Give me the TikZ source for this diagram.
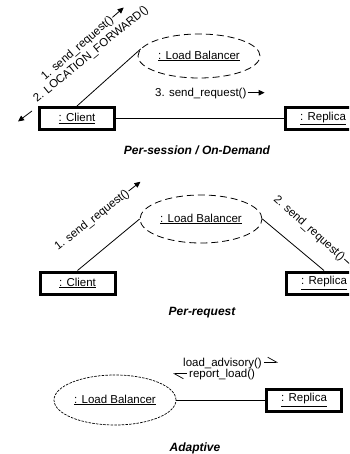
\documentclass[tikz,border=0pt]{standalone}
\usepackage{fontspec}
\setmainfont{Liberation Sans}
\usetikzlibrary{shapes.geometric,arrows.meta}
\tikzset{
  obj/.style={draw, line width=3pt, minimum width=75pt, minimum height=22pt, inner sep=0pt},
  lbal/.style={draw, ellipse, dash pattern=on 7pt off 4pt, line width=0.8pt, minimum width=122pt, minimum height=44pt, inner sep=0pt},
  lbalfine/.style={draw, ellipse, dash pattern=on 2.5pt off 1.2pt, line width=0.7pt, minimum width=122pt, minimum height=50pt, inner sep=0pt},
  link/.style={line width=0.8pt},
  lbl/.style={inner sep=0pt},
  msg/.style={line width=0.8pt, -{Triangle[length=6pt,width=5.5pt]}},
  harp/.style={line width=0.7pt, -{Straight Barb[left,length=9pt,width=10pt]}},
  ttl/.style={inner sep=0pt, font=\fontsize{12}{14}\selectfont\bfseries\itshape}
}
\begin{document}
\begin{tikzpicture}[x=1pt,y=-1pt,font=\fontsize{11.5}{13.5}\selectfont]
\path[use as bounding box] (0,0) rectangle (349,454);
\clip (0,0) rectangle (349,454);

% ---------- Per-session / On-Demand ----------
\node[lbal] (lb1) at (199,56) {\underline{: Load Balancer}};
\node[obj] (c1) at (77,118.5) {\underline{: Client}};
\node[obj] (r1) at (323,118.5) {\underline{: Replica}};
\draw[link] (c1) -- (r1);
\draw[link] (c1.north) -- (lb1.173);
\begin{scope}[shift={(45,81)}, rotate=41, transform shape]
  \node[lbl, anchor=base west] (m1) at (0,0) {1. send\_request()};
  \draw[msg] ([xshift=1pt,yshift=3.8pt]m1.base east) -- ++(15,0);
\end{scope}
\begin{scope}[shift={(37,103)}, rotate=39.5, transform shape]
  \node[lbl, anchor=base west] (m2) at (0,0) {2. LOCATION\_FORWARD()};
\end{scope}
\coordinate (ra) at (32,111);
\coordinate (rb) at (18,121.5);
\draw[msg] (ra) -- (rb);
\node[lbl, anchor=base west] (m3) at (155,96.5) {3. send\_request()};
\draw[msg] ([xshift=1pt,yshift=3.8pt]m3.base east) -- ++(17,0);
\node[ttl] (t1) at (197,150) {Per-session / On-Demand};

% ---------- Per-request ----------
\node[lbal, minimum height=48pt] (lb2) at (201,219) {\underline{: Load Balancer}};
\node[obj] (c2) at (77.5,283) {\underline{: Client}};
\node[obj] (r2) at (324,283) {\underline{: Replica}};
\draw[link] (c2.north) -- (lb2.west);
\draw[link] (lb2.east) -- (r2.north);
\begin{scope}[shift={(58,251)}, rotate=38, transform shape]
  \node[lbl, anchor=base west] (m4) at (0,0) {1. send\_request()};
  \draw[msg] ([xshift=1pt,yshift=3.8pt]m4.base east) -- ++(15,0);
\end{scope}
\begin{scope}[shift={(273,200)}, rotate=-42, transform shape]
  \node[lbl, anchor=base west] (m5) at (0,0) {2. send\_request()};
  \draw[msg] ([xshift=1pt,yshift=3.8pt]m5.base east) -- ++(15,0);
\end{scope}
\node[ttl] (t2) at (202,312.5) {Per-request};

% ---------- Adaptive ----------
\node[lbalfine] (lb3) at (115,400) {\underline{: Load Balancer}};
\node[obj] (r3) at (304,400) {\underline{: Replica}};
\draw[link] (lb3.east) -- (r3.west);
\node[lbl, anchor=base west] (m6) at (183,366) {load\_advisory()};
\draw[harp] ([xshift=2pt,yshift=3.8pt]m6.base east) -- ++(14,0);
\node[lbl, anchor=base west] (m7) at (189,377.5) {report\_load()};
\draw[harp] ([xshift=-2pt,yshift=3.8pt]m7.base west) -- ++(-14,0);
\node[ttl] (t3) at (195,448) {Adaptive};
\end{tikzpicture}
\end{document}
